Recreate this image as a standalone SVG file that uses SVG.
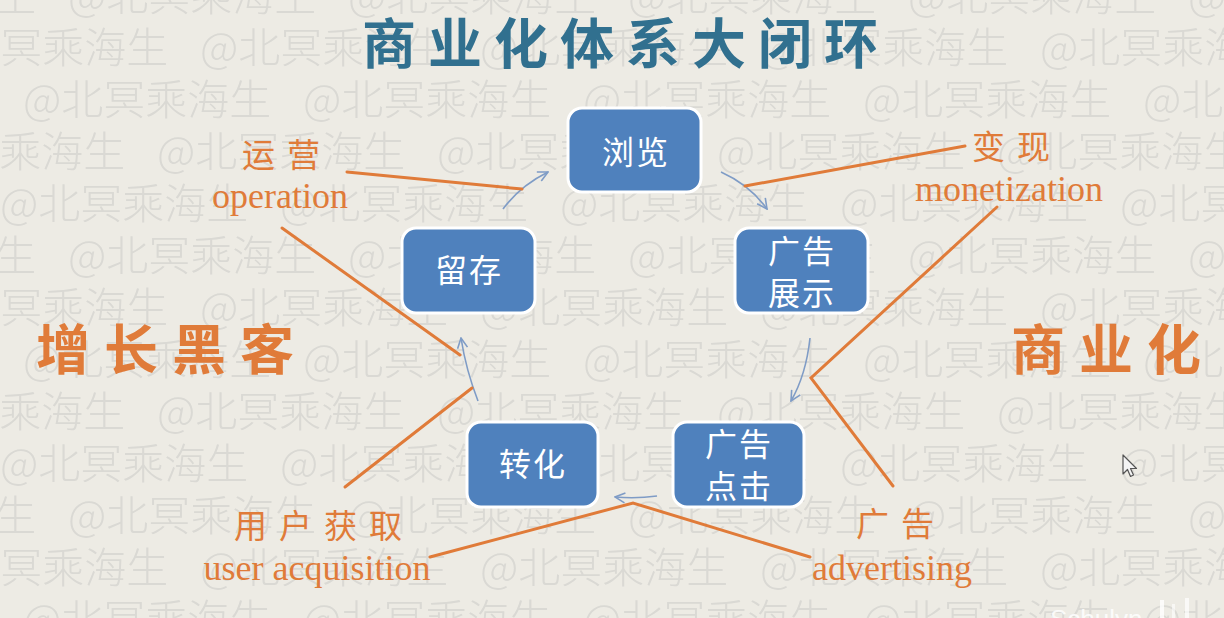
<svg xmlns="http://www.w3.org/2000/svg" width="1224" height="618" viewBox="0 0 1224 618">
  <defs>
    <style>
      .wm { font-family: "Noto Sans CJK SC", "Noto Sans", sans-serif; font-size: 42px; font-weight: 300; fill: #dad9d4; }
      .title { font-family: "Noto Sans CJK SC", sans-serif; font-size: 54px; font-weight: 700; fill: #31708f; letter-spacing: 12px; }
      .node rect { fill: #4f81bd; stroke: #ffffff; stroke-width: 3; }
      .node text { font-family: "Noto Sans CJK SC", sans-serif; font-size: 32px; font-weight: 400; fill: #ffffff; text-anchor: middle; dominant-baseline: central; letter-spacing: 2px; }
      .cn { font-family: "Noto Sans CJK SC", sans-serif; font-size: 33px; fill: #e07b39; text-anchor: middle; dominant-baseline: central; letter-spacing: 12px; }
      .big { font-family: "Noto Sans CJK SC", sans-serif; font-size: 54px; font-weight: 700; fill: #e07b39; text-anchor: middle; dominant-baseline: central; letter-spacing: 14px; }
      .en { font-family: "Liberation Serif", "Times New Roman", serif; font-size: 36px; fill: #e07b39; text-anchor: middle; }
      .flow { fill: none; stroke: #7f9cc6; stroke-width: 1.6; marker-end: url(#open); }
      .lead { fill: none; stroke: #e07b39; stroke-width: 3; stroke-linecap: round; stroke-linejoin: miter; }
    </style>
    <marker id="open" viewBox="0 0 12 12" refX="11" refY="6" markerWidth="12" markerHeight="12" markerUnits="userSpaceOnUse" orient="auto">
      <path d="M1,1 L11,6 L1,11" fill="none" stroke="#7f9cc6" stroke-width="1.6"/>
    </marker>
    <!-- repeating handle watermark, five staggered rows per tile -->
    <pattern id="wmTile" patternUnits="userSpaceOnUse" x="0" y="-31" width="280" height="260">
      <text class="wm" x="68" y="42">@北冥乘海生</text>
      <text class="wm" x="-212" y="42">@北冥乘海生</text>
      <text class="wm" x="200" y="94">@北冥乘海生</text>
      <text class="wm" x="-80" y="94">@北冥乘海生</text>
      <text class="wm" x="23" y="146">@北冥乘海生</text>
      <text class="wm" x="-257" y="146">@北冥乘海生</text>
      <text class="wm" x="157" y="198">@北冥乘海生</text>
      <text class="wm" x="-123" y="198">@北冥乘海生</text>
      <text class="wm" x="0" y="250">@北冥乘海生</text>
      <text class="wm" x="280" y="250">@北冥乘海生</text>
    </pattern>
  </defs>

  <!-- paper background with watermark -->
  <rect x="0" y="0" width="1224" height="618" fill="#edebe4"/>
  <rect x="0" y="0" width="1224" height="618" fill="url(#wmTile)"/>

  <!-- title -->
  <text class="title" x="626" y="40" text-anchor="middle" dominant-baseline="central">商业化体系大闭环</text>

  <!-- connectors -->
  <g id="connectors">
    <!-- cycle arrows -->
    <path class="flow" d="M503,209 Q520,186 548,172"/>
    <path class="flow" d="M721,172 Q750,185 767,209"/>
    <path class="flow" d="M810,338 Q806,375 791,401"/>
    <path class="flow" d="M657,496 Q636,499 615,497"/>
    <path class="flow" d="M478,401 Q466,370 461,338"/>
    <!-- label leaders -->
    <line class="lead" x1="347" y1="172" x2="522" y2="189"/>
    <line class="lead" x1="745" y1="186" x2="965" y2="146"/>
    <line class="lead" x1="282" y1="228" x2="460" y2="355"/>
    <line class="lead" x1="345" y1="487" x2="472" y2="388"/>
    <polyline class="lead" points="997,207 811,378 893,486"/>
    <polyline class="lead" points="430,557 633,503 810,557"/>
  </g>

  <!-- nodes -->
  <g id="node-browse" class="node">
    <rect x="568" y="108" width="133" height="84" rx="14"/>
    <text x="636" y="150">浏览</text>
  </g>
  <g id="node-retain" class="node">
    <rect x="402" y="228" width="133" height="85" rx="14"/>
    <text x="469" y="268">留存</text>
  </g>
  <g id="node-ad-show" class="node">
    <rect x="735" y="228" width="133" height="85" rx="14"/>
    <text x="802" y="249">广告</text>
    <text x="802" y="291">展示</text>
  </g>
  <g id="node-convert" class="node">
    <rect x="467" y="422" width="131" height="85" rx="14"/>
    <text x="533" y="462">转化</text>
  </g>
  <g id="node-ad-click" class="node">
    <rect x="673" y="422" width="131" height="85" rx="14"/>
    <text x="739" y="442">广告</text>
    <text x="739" y="484">点击</text>
  </g>

  <!-- side labels -->
  <g id="label-operation">
    <text class="cn" x="287" y="153">运营</text>
    <text class="en" x="280" y="208">operation</text>
  </g>
  <g id="label-monetization">
    <text class="cn" x="1017" y="145">变现</text>
    <text class="en" x="1009" y="201">monetization</text>
  </g>
  <g id="label-acquisition">
    <text class="cn" x="324" y="524">用户获取</text>
    <text class="en" x="317" y="580">user acquisition</text>
  </g>
  <g id="label-advertising">
    <text class="cn" x="901" y="522">广告</text>
    <text class="en" x="892" y="580">advertising</text>
  </g>
  <g id="label-growth">
    <text class="big" x="172" y="346">增长黑客</text>
  </g>
  <g id="label-commercial">
    <text class="big" x="1113" y="346">商业化</text>
  </g>

  <!-- pointer -->
  <path d="M1123,455 L1123,474 L1127.5,469.5 L1130.5,476.5 L1133.5,475 L1130.5,468.5 L1136.5,468.5 Z" fill="#f4f4f4" stroke="#555555" stroke-width="1.2" stroke-linejoin="round"/>

  <!-- corner tag -->
  <text x="1050" y="628" font-family="Liberation Sans, sans-serif" font-size="26" fill="#ffffff" fill-opacity="0.85">Schulyn</text>
  <rect x="1160" y="600" width="4" height="18" fill="#ffffff" fill-opacity="0.8"/>
  <rect x="1172" y="604" width="3" height="14" fill="#ffffff" fill-opacity="0.6"/>
  <rect x="1185" y="598" width="4" height="20" fill="#ffffff" fill-opacity="0.7"/>
</svg>
